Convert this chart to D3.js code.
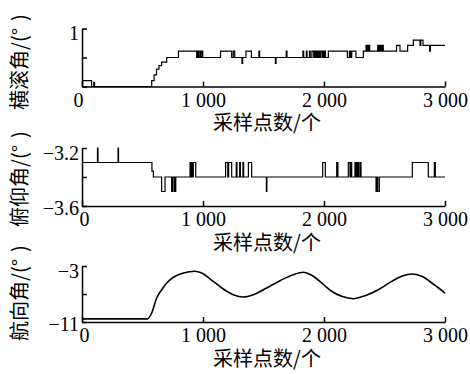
<!DOCTYPE html>
<html>
<head>
<meta charset="utf-8">
<script src="https://cdn.jsdelivr.net/npm/d3@7"></script>
<style>
  body { margin: 0; background: #fff; }
  svg { display: block; }
  .tick text { font-family: "Liberation Serif", "Times New Roman", serif; font-size: 20px; fill: #000; }
  .lab { font-family: "Noto Sans CJK SC", sans-serif; font-size: 20px; fill: #000; }
</style>
</head>
<body>
<div id="chart"></div>
<script>
// x ticks shared by all three panels
const xTicks = [0, 1000, 2000, 3000];
const xLabel = "采样点数/个";

// roll angle, step data [sample, value]
const rollPts = [
  [0, 0.1], [80, 0], [98, 0.07], [104, 0],
  [576, 0.1], [596, 0.2], [616, 0.3], [636, 0.36], [658, 0.42], [700, 0.5], [797, 0.61],
  [948, 0.5], [958, 0.61], [964, 0.5], [975, 0.61], [981, 0.5], [992, 0.61], [998, 0.5],
  [1145, 0.61], [1237, 0.5], [1250, 0.61], [1262, 0.5], [1322, 0.4], [1328, 0.5],
  [1355, 0.61], [1400, 0.5], [1462, 0.61], [1468, 0.5], [1598, 0.4], [1604, 0.5],
  [1688, 0.61], [1694, 0.5], [1826, 0.61], [1832, 0.5], [1854, 0.61], [1860, 0.5],
  [1880, 0.61], [1886, 0.5], [1900, 0.61], [1915, 0.5], [1925, 0.61], [1935, 0.5],
  [1945, 0.61], [1950, 0.5], [1958, 0.61], [1964, 0.5], [1972, 0.61], [1985, 0.5],
  [1992, 0.61], [2000, 0.5], [2005, 0.61], [2012, 0.5],
  [2036, 0.61], [2193, 0.5], [2210, 0.61], [2220, 0.5], [2229, 0.61], [2264, 0.5],
  [2325, 0.61], [2347, 0.71], [2355, 0.61], [2360, 0.71], [2368, 0.61], [2372, 0.71], [2378, 0.61],
  [2444, 0.71], [2452, 0.61], [2456, 0.71], [2464, 0.61], [2468, 0.71], [2476, 0.61], [2480, 0.71], [2490, 0.61],
  [2600, 0.71], [2628, 0.61], [2691, 0.71], [2738, 0.8], [2793, 0.71], [2800, 0.8], [2818, 0.71],
  [2873, 0.61], [2879, 0.71], [3000, 0.71]
];

// pitch angle, step data
const pitchPts = [
  [0, -3.3], [128, -3.2], [132, -3.3], [298, -3.2], [302, -3.3],
  [578, -3.36], [590, -3.4], [658, -3.5], [686, -3.4],
  [741, -3.5], [747, -3.4], [760, -3.5], [764, -3.4], [770, -3.5], [775, -3.4],
  [893, -3.3], [900, -3.4], [908, -3.3], [914, -3.4], [920, -3.3], [940, -3.4],
  [1187, -3.3], [1205, -3.4], [1212, -3.3], [1237, -3.4],
  [1275, -3.3], [1281, -3.4], [1303, -3.3], [1309, -3.4], [1330, -3.3], [1336, -3.4],
  [1375, -3.3], [1402, -3.4], [1524, -3.5], [1528, -3.4],
  [1989, -3.3], [2011, -3.4], [2105, -3.3], [2115, -3.4],
  [2201, -3.3], [2215, -3.4], [2220, -3.3], [2229, -3.4],
  [2256, -3.3], [2262, -3.4], [2268, -3.3], [2276, -3.4], [2282, -3.3], [2288, -3.4],
  [2300, -3.3], [2306, -3.4], [2430, -3.5], [2438, -3.4], [2444, -3.5], [2457, -3.4],
  [2730, -3.3], [2862, -3.4], [2912, -3.3], [2920, -3.4], [3000, -3.4]
];

// heading angle, smooth
const headingPts = [
  [0, -10.55], [540, -10.55], [576, -9.71], [617, -7.57], [659, -6.39], [700, -5.43],
  [755, -4.61], [838, -4.0], [934, -3.76], [989, -4.0], [1085, -5.19], [1168, -6.29],
  [1250, -7.1], [1333, -7.43], [1416, -7.1], [1526, -6.14], [1636, -5.1], [1746, -4.24],
  [1829, -3.9], [1898, -4.33], [1981, -5.43], [2063, -6.61], [2146, -7.33], [2242, -7.67],
  [2339, -7.24], [2449, -6.39], [2560, -5.19], [2642, -4.47], [2725, -4.14], [2807, -4.47],
  [2903, -5.57], [3000, -6.86]
];

const panels = [
  {label: "横滚角/(°", data: rollPts, curve: d3.curveStepAfter, yTicks: [0, 0.5, 1],
   yLabels: ["", "", "1"], top: 28.5, bottom: 86.5, zeroDx: -4, lw: 1.2, labelY: 62},
  {label: "俯仰角/(°", data: pitchPts, curve: d3.curveStepAfter, yTicks: [-3.6, -3.4, -3.2],
   yLabels: ["−3.6", "", "−3.2"], top: 148, bottom: 206, zeroDx: 2, lw: 1.2, labelY: 179},
  {label: "航向角/(°", data: headingPts, curve: d3.curveMonotoneX, yTicks: [-11, -7, -3],
   yLabels: ["−11", "", "−3"], top: 266, bottom: 322, zeroDx: 2, lw: 1.6, labelY: 293}
];

const width = 470, height = 374;
const svg = d3.select("#chart").append("svg")
  .attr("width", width)
  .attr("height", height);

const x = d3.scaleLinear().domain([0, 3000]).range([82, 445]);
const fmt = d3.formatLocale({decimal: ".", thousands: " ", grouping: [3], currency: ["", ""]}).format(",");

panels.forEach(function (p) {
  const y = d3.scaleLinear()
    .domain([p.yTicks[0], p.yTicks[2]])
    .range([p.bottom, p.top]);

  const g = svg.append("g");

  // data line
  const line = d3.line()
    .x(d => x(d[0]))
    .y(d => y(d[1]))
    .curve(p.curve);
  g.append("path")
    .datum(p.data)
    .attr("d", line)
    .attr("fill", "none")
    .attr("stroke", "#000")
    .attr("stroke-width", p.lw);

  // x axis, ticks point inward
  const xa = g.append("g")
    .attr("transform", `translate(0,${p.bottom})`)
    .call(d3.axisBottom(x).tickValues(xTicks).tickSize(-5).tickSizeOuter(0).tickPadding(6).tickFormat(fmt));
  xa.selectAll(".tick text").attr("dy", "0.71em")
    .attr("dx", d => d === 0 ? p.zeroDx : 0);

  // y axis
  const ya = g.append("g")
    .attr("transform", `translate(${x(0)},0)`)
    .call(d3.axisLeft(y).tickValues(p.yTicks).tickSize(-5).tickSizeOuter(0).tickPadding(3)
      .tickFormat((d, i) => p.yLabels[i]));
  ya.selectAll(".tick text")
    .attr("dy", (d, i) => i === 2 ? "0.55em" : "0.4em");

  svg.selectAll(".domain, .tick line")
    .attr("stroke", "#000")
    .attr("stroke-width", 1.5);

  // axis titles
  svg.append("text")
    .attr("class", "lab")
    .attr("x", 267)
    .attr("y", p.bottom + 35)
    .attr("text-anchor", "middle")
    .attr("dominant-baseline", "central")
    .text(xLabel);

  // rotated y title; ")" set apart like in the source figure
  const yl = svg.append("text")
    .attr("class", "lab")
    .attr("transform", `translate(27,${p.labelY}) rotate(-90)`)
    .attr("text-anchor", "middle");
  yl.append("tspan").text(p.label);
  yl.append("tspan").attr("dx", 7).text(")");
});
</script>
</body>
</html>
